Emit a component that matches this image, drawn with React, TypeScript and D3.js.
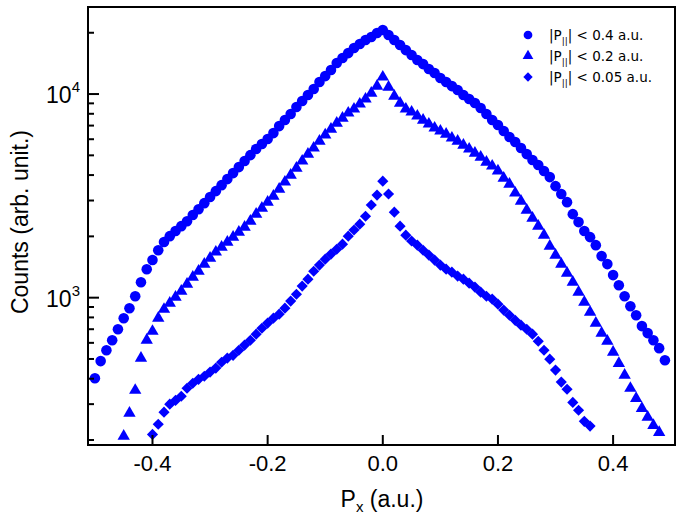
import React, { useEffect, useRef } from "react"
import * as d3 from "d3"

const width = 685
const height = 514

// |P_par| < 0.4 a.u. (circles)
const circleX = [
  -0.50, -0.49, -0.48, -0.47, -0.46, -0.45, -0.44, -0.43, -0.42, -0.41,
  -0.40, -0.39, -0.38, -0.37, -0.36, -0.35, -0.34, -0.33, -0.32, -0.31,
  -0.30, -0.29, -0.28, -0.27, -0.26, -0.25, -0.24, -0.23, -0.22, -0.21,
  -0.20, -0.19, -0.18, -0.17, -0.16, -0.15, -0.14, -0.13, -0.12, -0.11,
  -0.10, -0.09, -0.08, -0.07, -0.06, -0.05, -0.04, -0.03, -0.02, -0.01,
  0.00, 0.01, 0.02, 0.03, 0.04, 0.05, 0.06, 0.07, 0.08, 0.09,
  0.10, 0.11, 0.12, 0.13, 0.14, 0.15, 0.16, 0.17, 0.18, 0.19,
  0.20, 0.21, 0.22, 0.23, 0.24, 0.25, 0.26, 0.27, 0.28, 0.29,
  0.30, 0.31, 0.32, 0.33, 0.34, 0.35, 0.36, 0.37, 0.38, 0.39,
  0.40, 0.41, 0.42, 0.43, 0.44, 0.45, 0.46, 0.47, 0.48, 0.49
]
const circleCounts = [
  402, 488, 552, 618, 700, 793, 888, 1016, 1191, 1380,
  1530, 1710, 1875, 2005, 2125, 2245, 2375, 2545, 2720, 2912,
  3120, 3336, 3570, 3822, 4090, 4378, 4688, 5012, 5370, 5680,
  6010, 6430, 6960, 7450, 7980, 8630, 9250, 9890, 10590, 11460,
  12250, 13120, 14200, 15030, 15890, 16830, 17620, 18410, 19050, 19950,
  20630, 19490, 18410, 17420, 16440, 15560, 14690, 14030, 13270, 12680,
  12000, 11460, 10940, 10470, 9890, 9450, 9030, 8540, 7980, 7450,
  7050, 6580, 6150, 5810, 5430, 5070, 4740, 4480, 4190, 3910,
  3530, 3230, 2945, 2572, 2350, 2125, 1983, 1811, 1600, 1462,
  1291, 1151, 1016, 908, 820, 725, 670, 618, 565, 493
]

// |P_par| < 0.2 a.u. (triangles)
const triangleX = [
  -0.45, -0.44, -0.43, -0.42, -0.41,
  -0.40, -0.39, -0.38, -0.37, -0.36, -0.35, -0.34, -0.33, -0.32, -0.31,
  -0.30, -0.29, -0.28, -0.27, -0.26, -0.25, -0.24, -0.23, -0.22, -0.21,
  -0.20, -0.19, -0.18, -0.17, -0.16, -0.15, -0.14, -0.13, -0.12, -0.11,
  -0.10, -0.09, -0.08, -0.07, -0.06, -0.05, -0.04, -0.03, -0.02, -0.01,
  0.00, 0.01, 0.02, 0.03, 0.04, 0.05, 0.06, 0.07, 0.08, 0.09,
  0.10, 0.11, 0.12, 0.13, 0.14, 0.15, 0.16, 0.17, 0.18, 0.19,
  0.20, 0.21, 0.22, 0.23, 0.24, 0.25, 0.26, 0.27, 0.28, 0.29,
  0.30, 0.31, 0.32, 0.33, 0.34, 0.35, 0.36, 0.37, 0.38, 0.39,
  0.40, 0.41, 0.42, 0.43, 0.44, 0.45, 0.46, 0.47, 0.48
]
const triangleCounts = [
  209, 271, 351, 505, 618,
  684, 793, 877, 940, 1005, 1076, 1164, 1262, 1349, 1462,
  1563, 1675, 1770, 1875, 1983, 2099, 2218, 2375, 2572, 2754,
  2945, 3155, 3412, 3698, 4000, 4325, 4688, 5070, 5430, 5875,
  6295, 6730, 7195, 7620, 8070, 8440, 8930, 9450, 10110, 10940,
  12120, 10820, 9770, 9030, 8440, 8160, 7800, 7450, 7125, 6810,
  6580, 6360, 6080, 5875, 5610, 5370, 5130, 4900, 4630, 4430,
  4190, 3865, 3610, 3265, 2980, 2690, 2460, 2245, 2028, 1791,
  1618, 1462, 1318, 1191, 1064, 951, 849, 750, 670, 611,
  540, 476, 416, 359, 320, 286, 259, 236, 218
]

// |P_par| < 0.05 a.u. (diamonds)
const diamondX = [
  -0.40, -0.39, -0.38, -0.37, -0.36, -0.35, -0.34, -0.33, -0.32, -0.31,
  -0.30, -0.29, -0.28, -0.27, -0.26, -0.25, -0.24, -0.23, -0.22, -0.21,
  -0.20, -0.19, -0.18, -0.17, -0.16, -0.15, -0.14, -0.13, -0.12, -0.11,
  -0.10, -0.09, -0.08, -0.07, -0.06, -0.05, -0.04, -0.03, -0.02, -0.01,
  0.00, 0.01, 0.02, 0.03, 0.04, 0.05, 0.06, 0.07, 0.08, 0.09,
  0.10, 0.11, 0.12, 0.13, 0.14, 0.15, 0.16, 0.17, 0.18, 0.19,
  0.20, 0.21, 0.22, 0.23, 0.24, 0.25, 0.26, 0.27, 0.28, 0.29,
  0.30, 0.31, 0.32, 0.33, 0.34, 0.35, 0.36
]
const diamondCounts = [
  213, 239, 274, 300, 313, 328, 359, 380, 397, 411,
  431, 451, 482, 505, 521, 552, 585, 618, 662, 708,
  750, 793, 830, 888, 962, 1040, 1140, 1233, 1349, 1445,
  1546, 1637, 1730, 1832, 2005, 2150, 2296, 2512, 2850, 3190,
  3733, 3230, 2630, 2245, 2028, 1897, 1811, 1710, 1618, 1530,
  1445, 1380, 1334, 1276, 1233, 1178, 1127, 1064, 1016, 984,
  929, 869, 820, 774, 733, 700, 662, 611, 552, 499,
  441, 385, 355, 306, 280, 247, 234
]

const xTicks = [-0.4, -0.2, 0.0, 0.2, 0.4]
const xTickLabels = ["-0.4", "-0.2", "0.0", "0.2", "0.4"]
const yMajorTicks = [1000, 10000]
const yMajorExponents = ["3", "4"]
const yMinorTicks = [200, 300, 400, 500, 600, 700, 800, 900,
  2000, 3000, 4000, 5000, 6000, 7000, 8000, 9000, 20000]
const legendLimits = ["0.4", "0.2", "0.05"]

const font = "'Liberation Sans', Arial, Helvetica, sans-serif"
const legendFont = "'DejaVu Sans', Verdana, sans-serif"
const blue = "#0000ff"

export default function App() {
  const ref = useRef<SVGSVGElement>(null)

  useEffect(() => {
    const svg = d3.select(ref.current)
    svg.selectAll("*").remove()

    const left = 88, right = 675, top = 7, bottom = 445
    const x = d3.scaleLinear().domain([-0.512, 0.5075]).range([left, right])
    const y = d3.scaleLog().domain([189, 26760]).range([bottom, top])

    // plot markers are drawn a bit big so the dense runs merge into bands
    const circle = d3.symbol().type(d3.symbolCircle).size(88)
    const triangle = d3.symbol().type(d3.symbolTriangle).size(66)
    const diamond = d3.symbol().type(d3.symbolSquare).size(62)

    const series = [
      { xs: circleX, ys: circleCounts, path: circle(), rot: 0 },
      { xs: triangleX, ys: triangleCounts, path: triangle(), rot: 0 },
      { xs: diamondX, ys: diamondCounts, path: diamond(), rot: 45 },
    ]

    series.forEach(s => {
      svg.append("g")
        .selectAll("path")
        .data(s.xs.map((v, i) => [v, s.ys[i]]))
        .enter()
        .append("path")
        .attr("d", s.path)
        .attr("transform", d => `translate(${x(d[0])},${y(d[1])}) rotate(${s.rot})`)
        .attr("fill", blue)
    })

    // frame
    svg.append("rect")
      .attr("x", left).attr("y", top)
      .attr("width", right - left).attr("height", bottom - top)
      .attr("fill", "none").attr("stroke", "#000").attr("stroke-width", 2)

    // x ticks (inward)
    const xg = svg.append("g")
    xTicks.forEach((t, i) => {
      xg.append("line")
        .attr("x1", x(t)).attr("x2", x(t))
        .attr("y1", bottom).attr("y2", bottom - 10)
        .attr("stroke", "#000").attr("stroke-width", 2)
      xg.append("text")
        .attr("x", x(t)).attr("y", 471)
        .attr("text-anchor", "middle")
        .attr("font-family", font).attr("font-size", 22)
        .text(xTickLabels[i])
    })

    // y ticks
    const yg = svg.append("g")
    yMinorTicks.forEach(t => {
      yg.append("line")
        .attr("x1", left).attr("x2", left + 6)
        .attr("y1", y(t)).attr("y2", y(t))
        .attr("stroke", "#000").attr("stroke-width", 2)
    })
    yMajorTicks.forEach((t, i) => {
      yg.append("line")
        .attr("x1", left).attr("x2", left + 11)
        .attr("y1", y(t)).attr("y2", y(t))
        .attr("stroke", "#000").attr("stroke-width", 2)
      const lab = yg.append("text")
        .attr("x", 80).attr("y", y(t) + 9)
        .attr("text-anchor", "end")
        .attr("font-family", font).attr("font-size", 23)
      lab.append("tspan").text("10")
      lab.append("tspan").attr("dy", -11).attr("font-size", 15).text(yMajorExponents[i])
    })

    // axis titles
    const xt = svg.append("text")
      .attr("x", 382).attr("y", 507)
      .attr("text-anchor", "middle")
      .attr("font-family", font).attr("font-size", 23)
    xt.append("tspan").text("P")
    xt.append("tspan").attr("dy", 5).attr("font-size", 15).text("x")
    xt.append("tspan").attr("dy", -5).text(" (a.u.)")

    svg.append("text")
      .attr("transform", "translate(28,222) rotate(-90)")
      .attr("text-anchor", "middle")
      .attr("font-family", font).attr("font-size", 23)
      .text("Counts (arb. unit.)")

    // legend
    const legendPaths = [
      d3.symbol().type(d3.symbolCircle).size(60)(),
      d3.symbol().type(d3.symbolTriangle).size(50)(),
      d3.symbol().type(d3.symbolSquare).size(44)(),
    ]
    const lg = svg.append("g")
    legendLimits.forEach((lim, i) => {
      const ly = 35 + i * 21
      lg.append("path")
        .attr("d", legendPaths[i])
        .attr("transform", `translate(528,${ly}) rotate(${i === 2 ? 45 : 0})`)
        .attr("fill", blue)
      const t = lg.append("text")
        .attr("x", 549).attr("y", ly + 5)
        .attr("font-family", legendFont).attr("font-size", 13.5)
      t.append("tspan").text("|P")
      t.append("tspan").attr("dy", 4).attr("font-size", 9).text("||")
      t.append("tspan").attr("dy", -4).text(`| < ${lim} a.u.`)
    })
  }, [])

  return (
    <svg
      ref={ref}
      width={width}
      height={height}
      style={{ position: "absolute", left: 0, top: 0, background: "#fff" }}
    />
  )
}
